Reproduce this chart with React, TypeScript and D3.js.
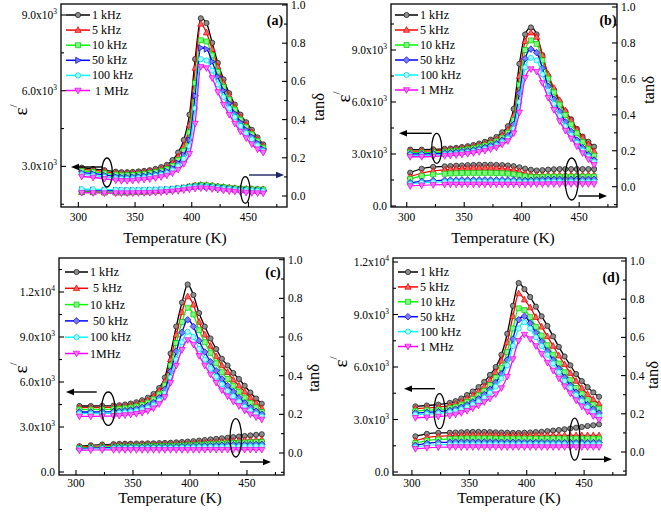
import React from 'react';
import * as d3 from 'd3';

// Temperature grid (K)
const TEMPS = [303,313,323,333,338,343,348,353,358,363,368,373,378,383,388,393,398,403,408,413,418,423,428,433,438,443,448,453,458,463];

// ---------- Panel (a) ----------
const EPS_A_1K = [2950,2900,2850,2790,2770,2770,2780,2800,2820,2850,2900,2970,3060,3250,3550,4050,5050,7250,8870,8680,7900,7100,6450,5900,5450,5050,4750,4450,4150,3870];
const EPS_A_5K = [2880,2840,2790,2730,2710,2710,2720,2740,2760,2790,2830,2890,2970,3120,3380,3800,4650,6900,8650,8300,7650,6950,6300,5800,5350,4950,4650,4350,4070,3800];
const EPS_A_10K = [2820,2780,2730,2670,2650,2650,2660,2680,2700,2730,2770,2820,2890,3020,3250,3620,4350,6300,8000,7950,7400,6750,6150,5650,5250,4850,4550,4270,4000,3740];
const EPS_A_50K = [2750,2710,2660,2600,2580,2580,2590,2610,2630,2660,2700,2750,2810,2930,3130,3450,4050,5800,7700,7650,7150,6550,6000,5500,5100,4750,4450,4180,3930,3680];
const EPS_A_100K = [2680,2640,2590,2530,2510,2510,2520,2540,2560,2590,2630,2670,2730,2840,3010,3300,3800,5300,7250,7200,6800,6250,5750,5300,4950,4600,4320,4070,3830,3620];
const EPS_A_1M = [2600,2560,2510,2450,2430,2430,2440,2460,2480,2500,2540,2580,2640,2730,2870,3100,3500,4700,6950,6900,6500,5950,5450,5050,4700,4380,4120,3880,3680,3550];
const TAN_A_1K = [0.022,0.021,0.020,0.020,0.020,0.020,0.021,0.022,0.023,0.024,0.026,0.028,0.030,0.033,0.037,0.042,0.048,0.053,0.056,0.055,0.052,0.049,0.046,0.043,0.040,0.038,0.036,0.035,0.035,0.034];
const TAN_A_5K = [0.020,0.019,0.018,0.018,0.018,0.018,0.019,0.020,0.021,0.023,0.025,0.027,0.030,0.033,0.037,0.042,0.049,0.055,0.058,0.057,0.054,0.050,0.047,0.044,0.041,0.039,0.037,0.036,0.035,0.035];
const TAN_A_10K = [0.021,0.020,0.019,0.019,0.019,0.019,0.020,0.021,0.022,0.024,0.026,0.028,0.031,0.034,0.038,0.043,0.049,0.054,0.057,0.056,0.053,0.049,0.046,0.043,0.040,0.038,0.036,0.035,0.034,0.034];
const TAN_A_50K = [0.032,0.031,0.030,0.029,0.028,0.028,0.028,0.028,0.029,0.030,0.031,0.032,0.034,0.036,0.039,0.042,0.046,0.049,0.051,0.050,0.047,0.044,0.041,0.038,0.035,0.033,0.031,0.030,0.029,0.028];
const TAN_A_100K = [0.036,0.035,0.034,0.033,0.032,0.032,0.032,0.032,0.033,0.033,0.034,0.035,0.036,0.038,0.040,0.043,0.046,0.048,0.049,0.048,0.045,0.042,0.039,0.036,0.033,0.031,0.029,0.028,0.027,0.026];
const TAN_A_1M = [0.017,0.016,0.015,0.015,0.015,0.015,0.015,0.016,0.016,0.017,0.018,0.020,0.022,0.024,0.027,0.031,0.035,0.039,0.041,0.040,0.037,0.033,0.029,0.026,0.023,0.020,0.018,0.016,0.015,0.014];

// ---------- Panel (b) ----------
const EPS_B_1K = [3250,3250,3270,3300,3320,3350,3400,3450,3520,3600,3700,3830,3980,4250,4600,5600,8200,9900,10300,9900,8700,7500,6700,6000,5450,5000,4450,4000,3700,3420];
const EPS_B_5K = [3170,3170,3190,3220,3240,3270,3310,3360,3420,3500,3590,3710,3850,4080,4400,5200,7500,9500,10000,9750,8700,7600,6800,6100,5500,4950,4400,3950,3550,3150];
const EPS_B_10K = [3080,3080,3100,3130,3150,3180,3220,3270,3330,3400,3490,3600,3730,3940,4220,4950,7000,9000,9550,9350,8400,7350,6550,5850,5250,4700,4200,3700,3300,2900];
const EPS_B_50K = [3000,3000,3020,3050,3070,3100,3140,3180,3230,3300,3380,3480,3600,3800,4050,4700,6500,8500,9050,8850,7950,6900,6150,5450,4850,4300,3800,3350,2950,2650];
const EPS_B_100K = [2920,2920,2940,2970,2990,3020,3060,3100,3150,3210,3290,3380,3500,3680,3900,4450,6000,8000,8550,8400,7600,6650,5900,5200,4600,4100,3650,3200,2850,2550];
const EPS_B_1M = [2840,2840,2860,2890,2910,2940,2970,3010,3060,3120,3190,3280,3380,3550,3750,4200,5400,7400,7900,7750,7100,6250,5550,4900,4350,3900,3450,3050,2700,2370];
const TAN_B_1K = [0.078,0.100,0.110,0.113,0.115,0.117,0.118,0.120,0.121,0.122,0.122,0.122,0.121,0.120,0.118,0.114,0.108,0.100,0.094,0.090,0.092,0.095,0.097,0.098,0.098,0.098,0.098,0.098,0.098,0.098];
const TAN_B_5K = [0.056,0.075,0.088,0.094,0.097,0.100,0.102,0.103,0.104,0.104,0.104,0.104,0.103,0.101,0.098,0.093,0.085,0.075,0.068,0.064,0.064,0.065,0.065,0.065,0.065,0.065,0.065,0.065,0.065,0.065];
const TAN_B_10K = [0.043,0.060,0.068,0.072,0.074,0.075,0.076,0.077,0.077,0.077,0.077,0.077,0.076,0.075,0.073,0.069,0.064,0.058,0.055,0.054,0.055,0.056,0.056,0.056,0.056,0.056,0.056,0.056,0.056,0.056];
const TAN_B_50K = [0.022,0.030,0.034,0.036,0.037,0.037,0.038,0.038,0.038,0.038,0.038,0.038,0.038,0.038,0.038,0.037,0.036,0.035,0.036,0.038,0.040,0.041,0.041,0.041,0.041,0.041,0.041,0.041,0.041,0.041];
const TAN_B_100K = [0.015,0.022,0.025,0.027,0.028,0.028,0.028,0.028,0.028,0.028,0.028,0.028,0.028,0.028,0.028,0.028,0.027,0.026,0.027,0.027,0.028,0.028,0.028,0.028,0.028,0.028,0.028,0.028,0.028,0.028];
const TAN_B_1M = [0.004,0.008,0.010,0.012,0.013,0.013,0.013,0.013,0.013,0.013,0.013,0.013,0.013,0.013,0.013,0.013,0.013,0.013,0.014,0.014,0.014,0.015,0.015,0.015,0.015,0.015,0.015,0.015,0.015,0.015];

// ---------- Panel (c) ----------
const EPS_C_1K = [4400,4400,4410,4430,4450,4500,4560,4650,4780,4950,5200,5600,6300,7900,9700,11300,12500,11800,10600,9700,8900,8200,7550,7100,6600,6200,5750,5300,4900,4550];
const EPS_C_5K = [4290,4290,4300,4320,4340,4380,4430,4510,4630,4790,5020,5400,6050,7500,9150,10650,11700,11150,10000,9150,8400,7700,7100,6650,6150,5750,5350,4950,4600,4250];
const EPS_C_10K = [4160,4160,4170,4190,4210,4250,4300,4370,4480,4620,4840,5180,5780,7100,8600,10000,10950,10500,9450,8650,7950,7250,6650,6200,5750,5350,4950,4600,4300,4000];
const EPS_C_50K = [4000,4000,4010,4030,4050,4090,4140,4200,4300,4430,4630,4950,5500,6700,8050,9300,10150,9700,8750,8000,7350,6750,6200,5750,5350,4950,4600,4300,4050,3850];
const EPS_C_100K = [3890,3890,3900,3920,3940,3970,4010,4070,4160,4280,4460,4760,5250,6300,7500,8650,9350,9000,8200,7500,6900,6350,5850,5400,5050,4700,4350,4100,3880,3700];
const EPS_C_1M = [3710,3710,3720,3740,3760,3790,3830,3880,3960,4080,4250,4530,5000,5950,7100,8150,8800,8500,7750,7100,6500,5950,5450,5050,4700,4400,4100,3850,3650,3500];
const TAN_C_1K = [0.035,0.040,0.044,0.046,0.047,0.048,0.048,0.049,0.049,0.050,0.050,0.051,0.052,0.053,0.055,0.057,0.059,0.061,0.064,0.067,0.070,0.073,0.076,0.079,0.082,0.085,0.088,0.091,0.094,0.097];
const TAN_C_5K = [0.030,0.034,0.037,0.039,0.040,0.040,0.041,0.041,0.041,0.042,0.042,0.042,0.043,0.044,0.045,0.046,0.047,0.049,0.051,0.053,0.055,0.057,0.059,0.061,0.063,0.064,0.066,0.067,0.068,0.069];
const TAN_C_10K = [0.026,0.029,0.031,0.032,0.033,0.033,0.034,0.034,0.034,0.035,0.035,0.035,0.036,0.037,0.038,0.039,0.040,0.041,0.043,0.044,0.046,0.047,0.049,0.050,0.052,0.053,0.054,0.055,0.056,0.057];
const TAN_C_50K = [0.022,0.025,0.027,0.028,0.028,0.029,0.029,0.029,0.029,0.030,0.030,0.030,0.031,0.031,0.032,0.033,0.034,0.035,0.036,0.037,0.038,0.039,0.040,0.041,0.042,0.042,0.043,0.044,0.044,0.045];
const TAN_C_100K = [0.020,0.022,0.023,0.024,0.024,0.025,0.025,0.025,0.025,0.025,0.026,0.026,0.026,0.027,0.027,0.028,0.028,0.029,0.030,0.030,0.031,0.031,0.032,0.032,0.033,0.033,0.034,0.034,0.035,0.035];
const TAN_C_1M = [0.014,0.015,0.016,0.016,0.016,0.016,0.016,0.016,0.016,0.016,0.016,0.016,0.016,0.016,0.016,0.016,0.016,0.016,0.016,0.017,0.017,0.017,0.017,0.017,0.017,0.017,0.017,0.017,0.017,0.017];

// ---------- Panel (d) ----------
const EPS_D_1K = [3750,3800,3850,3950,4050,4200,4400,4600,4850,5150,5550,6000,6700,7900,9500,10800,10450,10000,9450,8900,8350,7750,7150,6600,6100,5600,5200,4850,4550,4300];
const EPS_D_5K = [3620,3660,3710,3800,3890,4020,4200,4380,4600,4880,5240,5700,6350,7400,8900,10200,9850,9400,8850,8300,7750,7200,6650,6150,5650,5200,4800,4450,4150,3900];
const EPS_D_10K = [3490,3530,3570,3650,3730,3850,4010,4180,4380,4640,4970,5400,5950,6850,8200,9350,9250,8850,8300,7800,7250,6700,6200,5700,5250,4800,4450,4100,3850,3620];
const EPS_D_50K = [3370,3410,3450,3520,3590,3700,3840,4000,4180,4420,4720,5100,5600,6400,7600,8700,8900,8500,7950,7450,6900,6400,5900,5400,4950,4550,4200,3850,3600,3370];
const EPS_D_100K = [3280,3310,3350,3420,3480,3580,3710,3860,4030,4250,4530,4880,5350,6100,7200,8200,8550,8200,7700,7200,6700,6200,5700,5200,4800,4400,4050,3700,3420,3180];
const EPS_D_1M = [3100,3130,3170,3230,3290,3380,3500,3640,3800,4000,4200,4450,4800,5450,6450,7500,7850,7600,7200,6750,6250,5800,5350,4900,4500,4100,3750,3450,3200,2990];
const TAN_D_1K = [0.082,0.095,0.100,0.101,0.102,0.103,0.104,0.105,0.105,0.105,0.104,0.103,0.102,0.101,0.100,0.100,0.101,0.102,0.104,0.106,0.109,0.112,0.115,0.119,0.123,0.127,0.131,0.136,0.140,0.145];
const TAN_D_5K = [0.058,0.075,0.082,0.085,0.086,0.087,0.088,0.088,0.088,0.088,0.088,0.088,0.087,0.087,0.087,0.087,0.087,0.087,0.087,0.087,0.087,0.087,0.087,0.087,0.087,0.087,0.087,0.087,0.087,0.087];
const TAN_D_10K = [0.047,0.060,0.066,0.068,0.069,0.070,0.071,0.071,0.071,0.071,0.071,0.070,0.070,0.070,0.070,0.070,0.070,0.070,0.070,0.070,0.070,0.070,0.070,0.070,0.070,0.070,0.070,0.070,0.070,0.070];
const TAN_D_50K = [0.035,0.045,0.050,0.051,0.052,0.052,0.052,0.052,0.052,0.052,0.052,0.052,0.051,0.051,0.051,0.051,0.050,0.050,0.050,0.050,0.050,0.049,0.049,0.049,0.049,0.049,0.049,0.049,0.049,0.049];
const TAN_D_100K = [0.026,0.034,0.038,0.039,0.040,0.040,0.040,0.040,0.040,0.040,0.040,0.040,0.040,0.040,0.040,0.040,0.040,0.040,0.040,0.040,0.040,0.040,0.040,0.040,0.040,0.040,0.040,0.040,0.040,0.040];
const TAN_D_1M = [0.017,0.022,0.025,0.026,0.026,0.026,0.026,0.026,0.026,0.026,0.026,0.026,0.026,0.026,0.026,0.026,0.026,0.026,0.026,0.026,0.026,0.026,0.026,0.026,0.026,0.026,0.026,0.026,0.026,0.026];

// Legend labels and tick values
const LABELS_A = ['1 kHz', '5 kHz', '10 kHz', '50 kHz', '100 kHz', ' 1 MHz'];
const LABELS_B = ['1 kHz', '5 kHz', '10 kHz', '50 kHz', '100 kHz', '1 MHz'];
const LABELS_C = ['1 kHz', ' 5 kHz', '10 kHz', ' 50 kHz', '100 kHz', '1MHz'];
const LABELS_D = ['1 kHz', '5 kHz', '10 kHz', '50 kHz', '100 kHz', '1 MHz'];
const X_TICKS = [300, 350, 400, 450];
const X_MINOR = [325, 375, 425, 475];
const Y2_TICKS = [0, 0.2, 0.4, 0.6, 0.8, 1.0];
const Y2_MINOR = [-0.1, 0.1, 0.3, 0.5, 0.7, 0.9];

const STYLES = [
  { color: '#000000', fill: '#8e8e8e', edge: '#222222', shape: 'circle' },
  { color: '#ff0000', fill: '#ff6060', edge: '#e00000', shape: 'triUp' },
  { color: '#00ff00', fill: '#7dff7d', edge: '#00c800', shape: 'square' },
  { color: '#0000ff', fill: '#7a7aff', edge: '#0000d0', shape: 'diamond' },
  { color: '#00ffff', fill: '#a8ffff', edge: '#00d8e8', shape: 'circle' },
  { color: '#ff00ff', fill: '#ff70ff', edge: '#e000e0', shape: 'triDown' },
];

const PANELS = [
  {
    id: 'a', left: 61, right: 287, top: 4, bottom: 207,
    xDom: [284.7, 484], yDom: [1391, 9436], y2Dom: [-0.0576, 1.0052],
    yTicks: [3000, 6000, 9000], yMinor: [1500, 4500, 7500],
    eps: [EPS_A_1K, EPS_A_5K, EPS_A_10K, EPS_A_50K, EPS_A_100K, EPS_A_1M],
    tan: [TAN_A_1K, TAN_A_5K, TAN_A_10K, TAN_A_50K, TAN_A_100K, TAN_A_1M],
    labels: LABELS_A, blueShape: 'triRight',
    legend: { x1: 66, x2: 90, tx: 92, y0: 15, dy: 15.1 },
    tag: { x: 275, y: 25 }, xTitle: { x: 175, y: 243 }, tickY: 221,
    epsLab: { x: 20, y: 110 }, tanLab: { x: 318, y: 107 },
    arrowL: { tail: 103, head: 71, y: 167 }, ellL: { cx: 107, cy: 172.5, rx: 5.3, ry: 14.5 },
    arrowR: { tail: 249, head: 284, y: 175, color: '#1c2366' }, ellR: { cx: 245.3, cy: 190, rx: 4.7, ry: 13.3 },
  },
  {
    id: 'b', left: 391, right: 617, top: 4, bottom: 207,
    xDom: [286.3, 482.9], yDom: [-58, 11654], y2Dom: [-0.113, 1.0167],
    yTicks: [0, 3000, 6000, 9000], yMinor: [1500, 4500, 7500, 10500],
    eps: [EPS_B_1K, EPS_B_5K, EPS_B_10K, EPS_B_50K, EPS_B_100K, EPS_B_1M],
    tan: [TAN_B_1K, TAN_B_5K, TAN_B_10K, TAN_B_50K, TAN_B_100K, TAN_B_1M],
    labels: LABELS_B, blueShape: 'diamond',
    legend: { x1: 395, x2: 418, tx: 420, y0: 15, dy: 15 },
    tag: { x: 608, y: 25 }, xTitle: { x: 503, y: 243 }, tickY: 221,
    epsLab: { x: 343, y: 97 }, tanLab: { x: 648, y: 90 },
    arrowL: { tail: 431.7, head: 399, y: 133.3 }, ellL: { cx: 436.7, cy: 148.3, rx: 5, ry: 15 },
    arrowR: { tail: 578.3, head: 607, y: 196, color: '#000000' }, ellR: { cx: 571.7, cy: 179, rx: 6.7, ry: 21 },
  },
  {
    id: 'c', left: 59, right: 284, top: 258, bottom: 475,
    xDom: [285.1, 482.5], yDom: [-200, 14267], y2Dom: [-0.1138, 1.0088],
    yTicks: [0, 3000, 6000, 9000, 12000], yMinor: [1500, 4500, 7500, 10500, 13500],
    eps: [EPS_C_1K, EPS_C_5K, EPS_C_10K, EPS_C_50K, EPS_C_100K, EPS_C_1M],
    tan: [TAN_C_1K, TAN_C_5K, TAN_C_10K, TAN_C_50K, TAN_C_100K, TAN_C_1M],
    labels: LABELS_C, blueShape: 'diamond',
    legend: { x1: 65, x2: 88, tx: 90, y0: 272, dy: 16.3 },
    tag: { x: 273, y: 277 }, xTitle: { x: 170, y: 503 }, tickY: 487,
    epsLab: { x: 20, y: 368 }, tanLab: { x: 313, y: 378 },
    arrowL: { tail: 96.7, head: 66, y: 392 }, ellL: { cx: 108.3, cy: 408.7, rx: 6.7, ry: 16.7 },
    arrowR: { tail: 240, head: 271, y: 462, color: '#000000' }, ellR: { cx: 235.8, cy: 437.8, rx: 5.8, ry: 19.2 },
  },
  {
    id: 'd', left: 393, right: 626, top: 258, bottom: 475,
    xDom: [283.5, 486.5], yDom: [-171, 12229], y2Dom: [-0.1204, 1.0157],
    yTicks: [0, 3000, 6000, 9000, 12000], yMinor: [1500, 4500, 7500, 10500],
    eps: [EPS_D_1K, EPS_D_5K, EPS_D_10K, EPS_D_50K, EPS_D_100K, EPS_D_1M],
    tan: [TAN_D_1K, TAN_D_5K, TAN_D_10K, TAN_D_50K, TAN_D_100K, TAN_D_1M],
    labels: LABELS_D, blueShape: 'diamond',
    legend: { x1: 398, x2: 418, tx: 420, y0: 272, dy: 14.9 },
    tag: { x: 611, y: 282 }, xTitle: { x: 509, y: 503 }, tickY: 487,
    epsLab: { x: 340, y: 362 }, tanLab: { x: 652, y: 375 },
    arrowL: { tail: 435, head: 404, y: 388.7 }, ellL: { cx: 439.5, cy: 411.2, rx: 5.5, ry: 17.5 },
    arrowR: { tail: 581.7, head: 612, y: 459.3, color: '#000000' }, ellR: { cx: 574.7, cy: 439.2, rx: 5.3, ry: 21 },
  },
];

const FONT = 'Liberation Serif, Times New Roman, serif';

function markerPath(shape: string): string | null {
  switch (shape) {
    case 'triUp': return 'M0,-3.4L3.1,2.3L-3.1,2.3Z';
    case 'triDown': return 'M0,3.4L3.1,-2.3L-3.1,-2.3Z';
    case 'square': return 'M-2.5,-2.5L2.5,-2.5L2.5,2.5L-2.5,2.5Z';
    case 'diamond': return 'M0,-3.3L3.3,0L0,3.3L-3.3,0Z';
    case 'triRight': return 'M3.4,0L-2.3,3.1L-2.3,-3.1Z';
    default: return null;
  }
}

function Marker({ x, y, st, shape }: any) {
  const p = markerPath(shape);
  if (!p) {
    return <circle cx={x} cy={y} r={2.6} fill={st.fill} stroke={st.edge} strokeWidth={0.8} />;
  }
  return <path d={p} transform={`translate(${x},${y})`} fill={st.fill} stroke={st.edge} strokeWidth={0.7} />;
}

function sci(v: number) {
  if (v === 0) return { m: '0.0', e: '' };
  const e = Math.floor(Math.log10(v));
  return { m: (v / Math.pow(10, e)).toFixed(1) + 'x10', e: String(e) };
}

function Arrow({ tail, head, y, color }: any) {
  const s = head > tail ? 1 : -1;
  const base = head - s * 8;
  return (
    <g>
      <line x1={tail} y1={y} x2={base} y2={y} stroke={color} strokeWidth={1.4} />
      <path d={`M${head},${y}L${base},${y - 3.2}L${base},${y + 3.2}Z`} fill={color} />
    </g>
  );
}

function Panel({ p }: any) {
  const x = d3.scaleLinear().domain(p.xDom).range([p.left, p.right]);
  const y = d3.scaleLinear().domain(p.yDom).range([p.bottom, p.top]);
  const y2 = d3.scaleLinear().domain(p.y2Dom).range([p.bottom, p.top]);
  const lineE = d3.line<number>().x((_, i) => x(TEMPS[i])).y((d) => y(d)).curve(d3.curveMonotoneX);
  const lineT = d3.line<number>().x((_, i) => x(TEMPS[i])).y((d) => y2(d)).curve(d3.curveMonotoneX);
  const shapeOf = (i: number) => (i === 3 ? p.blueShape : STYLES[i].shape);
  const inY = (v: number) => v >= p.yDom[0] && v <= p.yDom[1];
  const inY2 = (v: number) => v >= p.y2Dom[0] && v <= p.y2Dom[1];
  const inX = (v: number) => v >= p.xDom[0] && v <= p.xDom[1];

  return (
    <g>
      {p.tan.map((arr: number[], i: number) => (
        <g key={'t' + i}>
          <path d={lineT(arr) || ''} fill="none" stroke={STYLES[i].color} strokeWidth={1.2} />
          {arr.map((v, j) => <Marker key={j} x={x(TEMPS[j])} y={y2(v)} st={STYLES[i]} shape={shapeOf(i)} />)}
        </g>
      ))}
      {p.eps.map((arr: number[], i: number) => (
        <g key={'e' + i}>
          <path d={lineE(arr) || ''} fill="none" stroke={STYLES[i].color} strokeWidth={1.3} />
          {arr.map((v, j) => <Marker key={j} x={x(TEMPS[j])} y={y(v)} st={STYLES[i]} shape={shapeOf(i)} />)}
        </g>
      ))}

      <rect x={p.left} y={p.top} width={p.right - p.left} height={p.bottom - p.top} fill="none" stroke="#000" strokeWidth={1.3} />

      {X_TICKS.filter(inX).map((t) => (
        <g key={'xt' + t}>
          <line x1={x(t)} x2={x(t)} y1={p.bottom} y2={p.bottom - 5} stroke="#000" strokeWidth={1.1} />
          <text x={x(t)} y={p.tickY} textAnchor="middle" fontSize={11.5}>{t}</text>
        </g>
      ))}
      {X_MINOR.filter(inX).map((t) => (
        <line key={'xm' + t} x1={x(t)} x2={x(t)} y1={p.bottom} y2={p.bottom - 3} stroke="#000" strokeWidth={1.1} />
      ))}

      {p.yTicks.filter(inY).map((t: number) => {
        const s = sci(t);
        return (
          <g key={'yt' + t}>
            <line x1={p.left} x2={p.left + 5} y1={y(t)} y2={y(t)} stroke="#000" strokeWidth={1.1} />
            <text x={p.left - 4} y={y(t) + 4} textAnchor="end" fontSize={11.5}>
              <tspan>{s.m}</tspan>
              {s.e && <tspan dy={-5} fontSize={7.5}>{s.e}</tspan>}
            </text>
          </g>
        );
      })}
      {p.yMinor.filter(inY).map((t: number) => (
        <line key={'ym' + t} x1={p.left} x2={p.left + 3} y1={y(t)} y2={y(t)} stroke="#000" strokeWidth={1.1} />
      ))}

      {Y2_TICKS.filter(inY2).map((t) => (
        <g key={'y2t' + t}>
          <line x1={p.right} x2={p.right - 5} y1={y2(t)} y2={y2(t)} stroke="#000" strokeWidth={1.1} />
          <text x={p.right + 4} y={y2(t) + 4} textAnchor="start" fontSize={11.5}>{t.toFixed(1)}</text>
        </g>
      ))}
      {Y2_MINOR.filter(inY2).map((t) => (
        <line key={'y2m' + t} x1={p.right} x2={p.right - 3} y1={y2(t)} y2={y2(t)} stroke="#000" strokeWidth={1.1} />
      ))}

      {p.labels.map((lab: string, i: number) => {
        const ly = p.legend.y0 + i * p.legend.dy;
        return (
          <g key={'lg' + i}>
            <line x1={p.legend.x1} x2={p.legend.x2} y1={ly} y2={ly} stroke={STYLES[i].color} strokeWidth={1.5} />
            <Marker x={(p.legend.x1 + p.legend.x2) / 2} y={ly} st={STYLES[i]} shape={shapeOf(i)} />
            <text x={p.legend.tx} y={ly + 4} fontSize={12} style={{ whiteSpace: 'pre' }}>{lab}</text>
          </g>
        );
      })}

      <text x={p.tag.x} y={p.tag.y} textAnchor="middle" fontSize={14} fontWeight="bold">({p.id})</text>

      <text x={p.xTitle.x} y={p.xTitle.y} textAnchor="middle" fontSize={15.5}>Temperature (K)</text>
      <text transform={`translate(${p.epsLab.x},${p.epsLab.y}) rotate(-90)`} textAnchor="middle" dominantBaseline="central" fontSize={19}>
        <tspan>ε</tspan><tspan dy={-7} fontSize={11}>/</tspan>
      </text>
      <text transform={`translate(${p.tanLab.x},${p.tanLab.y}) rotate(-90)`} textAnchor="middle" dominantBaseline="central" fontSize={16.5}>tanδ</text>

      <Arrow {...p.arrowL} color="#000" />
      <ellipse cx={p.ellL.cx} cy={p.ellL.cy} rx={p.ellL.rx} ry={p.ellL.ry} fill="none" stroke="#000" strokeWidth={1.3} />
      <Arrow {...p.arrowR} />
      <ellipse cx={p.ellR.cx} cy={p.ellR.cy} rx={p.ellR.rx} ry={p.ellR.ry} fill="none" stroke="#000" strokeWidth={1.3} />
    </g>
  );
}

export default function App() {
  return (
    <svg width={661} height={514} style={{ position: 'absolute', left: 0, top: 0, display: 'block', fontFamily: FONT }}>
      <rect x={0} y={0} width={661} height={514} fill="#fff" />
      {PANELS.map((p) => <Panel key={p.id} p={p} />)}
    </svg>
  );
}
